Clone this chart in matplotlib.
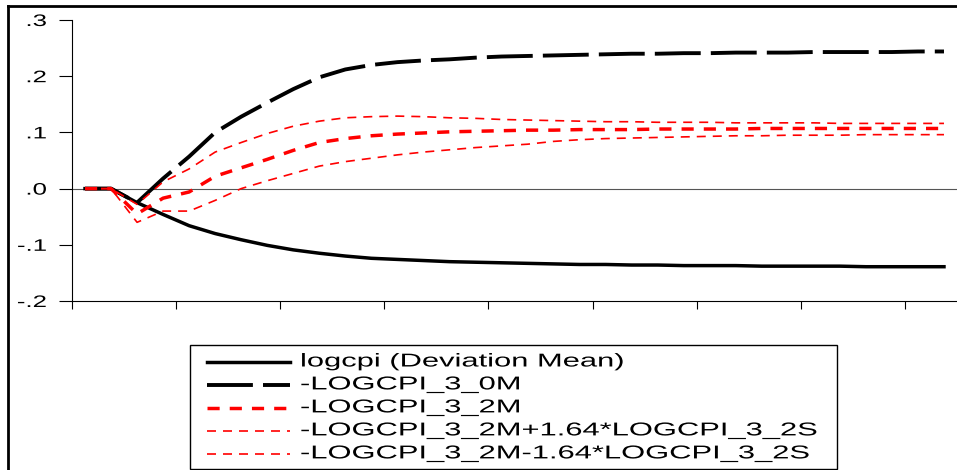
import matplotlib
matplotlib.use("Agg")
import matplotlib.pyplot as plt
from matplotlib.lines import Line2D
from matplotlib.patches import Rectangle
from matplotlib.patheffects import AbstractPathEffect
from matplotlib.transforms import Affine2D
import numpy as np

plt.rcParams['font.family'] = ['Liberation Sans', 'DejaVu Sans']

# periods 1..34
periods = np.arange(1, 35)

logcpi = [0, 0, -0.025, -0.046, -0.066, -0.080, -0.091, -0.101, -0.109, -0.115,
          -0.120, -0.124, -0.126, -0.128, -0.130, -0.131, -0.132, -0.133, -0.134, -0.135,
          -0.135, -0.136, -0.136, -0.137, -0.137, -0.137, -0.138, -0.138, -0.138, -0.138,
          -0.139, -0.139, -0.139, -0.139]
m0 = [0, 0, -0.025, 0.018, 0.057, 0.100, 0.128, 0.153, 0.177, 0.198,
      0.212, 0.220, 0.225, 0.228, 0.230, 0.233, 0.235, 0.236, 0.237, 0.238,
      0.239, 0.240, 0.240, 0.241, 0.241, 0.242, 0.242, 0.242, 0.243, 0.243,
      0.243, 0.243, 0.244, 0.244]
m2 = [0, 0, -0.045, -0.017, -0.006, 0.022, 0.037, 0.052, 0.068, 0.082,
      0.089, 0.094, 0.097, 0.099, 0.101, 0.102, 0.103, 0.104, 0.104, 0.105,
      0.105, 0.105, 0.106, 0.106, 0.106, 0.106, 0.107, 0.107, 0.107, 0.107,
      0.107, 0.107, 0.107, 0.107]
upper = [0, 0, -0.028, 0.012, 0.035, 0.065, 0.082, 0.098, 0.111, 0.120,
         0.126, 0.128, 0.129, 0.128, 0.126, 0.125, 0.123, 0.122, 0.121, 0.120,
         0.119, 0.119, 0.118, 0.118, 0.118, 0.117, 0.117, 0.117, 0.117, 0.116,
         0.116, 0.116, 0.116, 0.116]
lower = [0, 0, -0.060, -0.040, -0.040, -0.021, 0.000, 0.014, 0.027, 0.040,
         0.048, 0.054, 0.060, 0.065, 0.069, 0.073, 0.076, 0.079, 0.084, 0.087,
         0.089, 0.090, 0.091, 0.092, 0.093, 0.094, 0.094, 0.095, 0.095, 0.095,
         0.096, 0.096, 0.096, 0.096]

labels = ["logcpi (Deviation Mean)", "-LOGCPI_3_0M", "-LOGCPI_3_2M",
          "-LOGCPI_3_2M+1.64*LOGCPI_3_2S", "-LOGCPI_3_2M-1.64*LOGCPI_3_2S"]
ytick_vals = [-0.2, -0.1, 0.0, 0.1, 0.2, 0.3]
ytick_labels = ["-.2", "-.1", ".0", ".1", ".2", ".3"]

W, H = 957, 470


class StretchX(AbstractPathEffect):
    # the reference text is drawn wide, so stretch glyphs sideways
    def __init__(self, sx, anchor='left'):
        super().__init__()
        self.sx = sx
        self.anchor = anchor

    def draw_path(self, renderer, gc, tpath, affine, rgbFace=None):
        x0 = 0
        if self.anchor == 'right' and len(tpath.vertices):
            x0 = tpath.vertices[:, 0].max()
        t = Affine2D().translate(-x0, 0).scale(self.sx, 1).translate(x0, 0) + affine
        renderer.draw_path(gc, tpath, t, rgbFace)


fig = plt.figure(figsize=(W / 100, H / 100), dpi=100)
ax = fig.add_axes([72 / W, 1 - 301 / H, 1 - 72 / W, (301 - 20) / H])

styles = [
    dict(color='black', lw=2.5),
    dict(color='black', lw=2.8, dashes=(11.8, 2.6), dash_capstyle='butt'),
    dict(color='red', lw=2.5, dashes=(3.5, 2.9), dash_capstyle='butt'),
    dict(color='red', lw=1.2, dashes=(5.4, 4.2), dash_capstyle='butt'),
    dict(color='red', lw=1.2, dashes=(5.4, 4.2), dash_capstyle='butt'),
]

ax.axhline(0, color='#555555', lw=0.8, zorder=1)
for ys, st in zip([logcpi, m0, m2, upper, lower], styles):
    ax.plot(periods, ys, **st)

ax.set_xlim(0.5, 34.5)
ax.set_ylim(-0.2, 0.3)
ax.set_xticks(np.arange(0.5, 34, 4))
ax.set_xticklabels([])
ax.set_yticks(ytick_vals)
ax.set_yticklabels(ytick_labels, fontsize=12)
for t in ax.get_yticklabels():
    t.set_path_effects([StretchX(1.55, 'right')])
ax.tick_params(axis='y', length=9.4, width=0.8, pad=9)
ax.tick_params(axis='x', length=5.5, width=0.8)
for s in ['top', 'right']:
    ax.spines[s].set_visible(False)
for s in ['left', 'bottom']:
    ax.spines[s].set_linewidth(0.8)

# outer frame
fig.add_artist(Line2D([8 / W, 8 / W], [0, 1 - 6 / H], color='black', lw=2,
                      transform=fig.transFigure))
fig.add_artist(Line2D([8 / W, 1], [1 - 6 / H, 1 - 6 / H], color='black', lw=2,
                      transform=fig.transFigure))

# legend box drawn by hand
fig.add_artist(Rectangle((190 / W, 1 - 469 / H), (837 - 190) / W, (469 - 345) / H,
                         transform=fig.transFigure, facecolor='white',
                         edgecolor='black', lw=1.0))
row_y = [362, 385, 408, 431, 454]
for lab, st, y in zip(labels, styles, row_y):
    fy = 1 - y / H
    fig.add_artist(Line2D([207 / W, 290 / W], [fy, fy], transform=fig.transFigure, **st))
    fig.text(300 / W, fy, lab, fontsize=13.4, va='center', ha='left',
             path_effects=[StretchX(1.66)])

fig.savefig("out.png", dpi=100)
